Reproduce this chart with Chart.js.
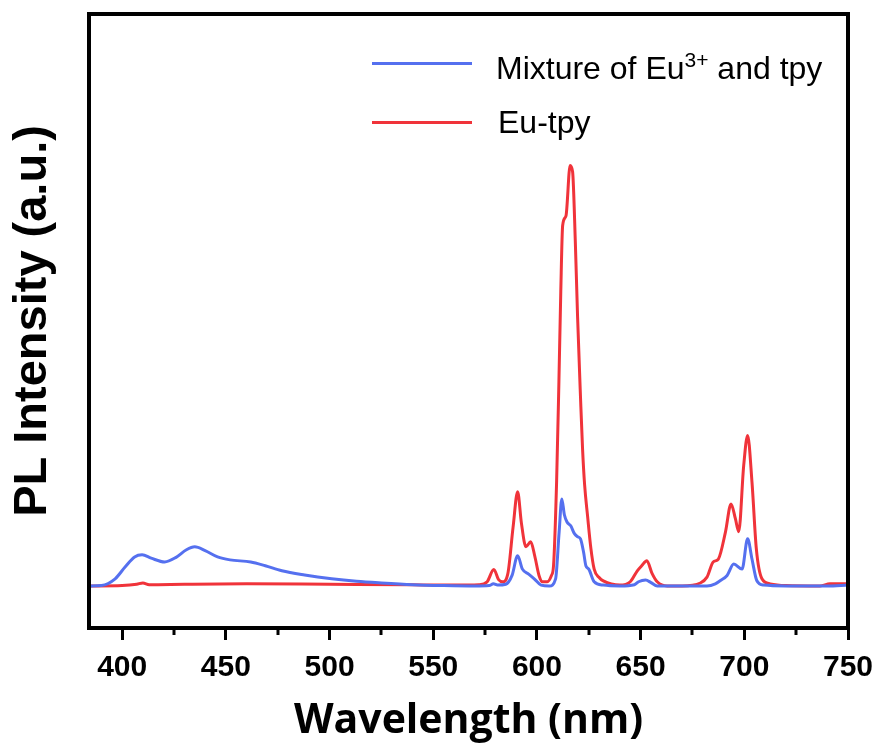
<!DOCTYPE html>
<html>
<head>
<meta charset="utf-8">
<script src="https://cdn.jsdelivr.net/npm/chart.js@4.4.1/dist/chart.umd.min.js"></script>
<style>
  html, body { margin: 0; padding: 0; background: #fff; }
  #wrap { position: relative; width: 879px; height: 746px; }
  #legend { position: absolute; left: 0; top: 0; font-family: 'Liberation Sans', Arial, sans-serif; font-size: 32px; color: #000; }
  .item { position: absolute; white-space: nowrap; line-height: 36px; }
  .swatch { position: absolute; height: 3px; width: 100px; }
  sup { font-size: 21px; vertical-align: 12px; line-height: 0; }
</style>
</head>
<body>
<div id="wrap">
  <canvas id="chart" width="879" height="746"></canvas>
  <div id="legend">
    <div class="swatch" style="left:372px; top:62px; background:#5570ef"></div>
    <div class="item" style="left:496px; top:50px">Mixture of Eu<sup>3+</sup> and tpy</div>
    <div class="swatch" style="left:372px; top:121px; background:#f0333a"></div>
    <div class="item" style="left:498px; top:104px">Eu-tpy</div>
  </div>
</div>
<script>
const MIX_X = [384, 390, 396.6, 401.4, 406, 409.6, 414, 420.5, 426, 431, 435, 440, 446, 452, 462, 469, 477, 488, 501, 513, 525, 540, 555, 570,
  577, 579, 581, 585, 588, 590.7, 593, 596, 598.7, 602, 606, 609, 610.7, 612, 613.2, 614.5, 616.3, 618, 619.6, 621, 622.5, 623.6, 625, 627.6,
  632, 640, 647, 649, 652.4, 655, 658, 670, 682, 686, 688.5, 691.7, 694.9, 698.9, 701.6, 703.7, 706, 709.3, 720, 740, 750];
const MIX_Y = [0, 0.1, 1.7, 4.5, 6.9, 7.4, 6.6, 5.7, 6.8, 8.6, 9.3, 8.4, 6.9, 6.2, 5.7, 4.8, 3.6, 2.6, 1.7, 1.1, 0.7, 0.3, 0.1, 0,
  0.1, 0.5, 0.2, 0.4, 2.5, 7.2, 4, 2.8, 1.7, 0.2, 0, 1.7, 12.8, 20.7, 17, 15.2, 14.3, 12.5, 11.7, 11.2, 8, 4.8, 4, 1,
  0.2, 0, 0.3, 1, 1.4, 0.8, 0, 0, 0, 0.5, 1.3, 2.5, 5.2, 4, 11.2, 6.4, 1.3, 0.2, 0, 0, 0.2];

const EU_X = [384, 400, 407, 410, 413, 430, 460, 500, 540, 560, 572, 576, 579.2, 581.5, 583.5, 586, 588.5, 590.7, 592.5, 594.7, 597, 599, 601,
  602.7, 605, 607, 608, 609.5, 610.6, 611.5, 612.4, 614, 616, 617.2, 618.5, 619.6, 621, 622, 623, 624.4, 626, 627.6, 630, 632, 640,
  645, 648.4, 650.5, 653, 655.5, 658, 662.8, 670, 678.8, 682, 685, 687.5, 690.9, 693.6, 695.7, 697.3, 699.7, 701.6, 703.7, 705.8,
  708.5, 712.5, 720, 736.5, 741.3, 750];
const EU_Y = [0, 0.1, 0.4, 0.7, 0.3, 0.4, 0.5, 0.4, 0.3, 0.2, 0.3, 1, 3.9, 1.5, 1, 3, 14, 22.4, 15, 9.3, 10.5, 7, 2.5,
  1, 1, 2.5, 4.8, 25, 48.6, 70, 85.7, 88, 100, 98.5, 82, 64, 45, 32.6, 24, 16.7, 9, 4, 2, 1.2, 0.2,
  1, 3.6, 4.8, 6, 3, 1, 0, 0, 0.7, 2.1, 5.7, 6.4, 12.8, 19.5, 16, 12.9, 28.6, 35.8, 24.7, 8.8,
  1.7, 0.5, 0.1, 0, 0.5, 0.5];

const MAJOR_TICKS = [400, 450, 500, 550, 600, 650, 700, 750];
const MINOR_TICKS = [425, 475, 525, 575, 625, 675, 725];

function pairs(xs, ys) {
  return xs.map((x, i) => ({ x, y: ys[i] }));
}

// frame around the plot + short minor ticks under the x axis
const framePlugin = {
  id: 'frame',
  afterDraw(chart) {
    const { ctx, chartArea: a, scales } = chart;
    ctx.save();
    ctx.strokeStyle = '#000';
    ctx.lineWidth = 3;
    MINOR_TICKS.forEach(v => {
      const px = Math.round(scales.x.getPixelForValue(v));
      ctx.beginPath();
      ctx.moveTo(px, a.bottom);
      ctx.lineTo(px, a.bottom + 7);
      ctx.stroke();
    });
    ctx.lineWidth = 4;
    ctx.strokeRect(a.left, a.top, a.right - a.left, a.bottom - a.top);
    ctx.restore();
  }
};

new Chart(document.getElementById('chart'), {
  type: 'line',
  data: {
    datasets: [
      {
        label: 'Mixture of Eu3+ and tpy',
        data: pairs(MIX_X, MIX_Y),
        borderColor: '#5570ef',
        borderWidth: 3,
        pointRadius: 0,
        cubicInterpolationMode: 'monotone'
      },
      {
        label: 'Eu-tpy',
        data: pairs(EU_X, EU_Y),
        borderColor: '#f0333a',
        borderWidth: 3,
        pointRadius: 0,
        cubicInterpolationMode: 'monotone'
      }
    ]
  },
  options: {
    responsive: false,
    animation: false,
    layout: { autoPadding: false, padding: { top: 14, right: 31, left: 0, bottom: 0 } },
    plugins: { legend: { display: false }, tooltip: { enabled: false } },
    scales: {
      x: {
        type: 'linear',
        min: 384,
        max: 750,
        border: { display: false },
        grid: { drawOnChartArea: false, drawTicks: true, tickLength: 12, tickWidth: 3, tickColor: '#000' },
        afterBuildTicks: (s) => { s.ticks = MAJOR_TICKS.map(v => ({ value: v })); },
        ticks: {
          color: '#000',
          padding: 10,
          maxRotation: 0,
          font: { family: "'Liberation Sans', Arial, sans-serif", weight: 'bold', size: 30 }
        },
        title: {
          display: true,
          text: 'Wavelength (nm)',
          color: '#000',
          padding: { top: 4, bottom: 0 },
          font: { family: "'Open Sans', sans-serif", weight: 'bold', size: 41 }
        },
        afterFit: (s) => { s.height = 118; s.paddingLeft = 0; s.paddingRight = 0; }
      },
      y: {
        min: -10,
        max: 136,
        border: { display: false },
        grid: { display: false },
        ticks: { display: false },
        title: {
          display: true,
          text: 'PL Intensity (a.u.)',
          color: '#000',
          padding: { top: 5, bottom: 0 },
          font: { family: "'Liberation Sans', Arial, sans-serif", weight: 'bold', size: 47 }
        },
        afterFit: (s) => { s.width = 89; }
      }
    }
  },
  plugins: [framePlugin]
});
</script>
</body>
</html>
